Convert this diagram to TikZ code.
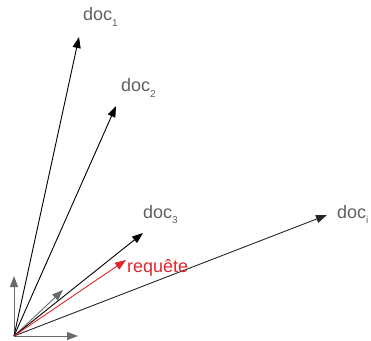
\documentclass[tikz,border=0pt]{standalone}
\usepackage{fontspec}
\setmainfont{Liberation Sans}
\usetikzlibrary{arrows.meta}
\definecolor{labelgray}{HTML}{606060}
\definecolor{axisgray}{HTML}{6A6A6A}
\definecolor{queryred}{HTML}{E0252B}
\newcommand{\idx}[1]{\raisebox{-5.5pt}{\fontsize{10}{10}\selectfont #1}}
\tikzset{
  vec/.style={line width=0.9pt, -{Triangle[length=11pt,width=8pt]}},
  lab/.style={anchor=base west, inner sep=0pt, text=labelgray, font=\fontsize{18}{20}\selectfont},
}
\begin{document}
\begin{tikzpicture}[x=1pt,y=1pt]
\useasboundingbox (0,0) rectangle (371,340);
% origin and vector tips
\coordinate (O) at (14,4);
\coordinate (d1) at (79,303);
\coordinate (d2) at (116,234);
\coordinate (d3) at (143,107);
\coordinate (di) at (327,125);
\coordinate (q) at (126,80);
\coordinate (s) at (63,50);
\coordinate (ay) at (14,64);
\coordinate (ax) at (78,4);
% basis axes and small vector
\draw[vec, axisgray] (O) -- (ay);
\draw[vec, axisgray] (O) -- (ax);
\draw[vec, axisgray] (O) -- (s);
% document vectors
\draw[vec, black] (O) -- (d1);
\draw[vec, black] (O) -- (d2);
\draw[vec, black] (O) -- (d3);
\draw[vec, black!85] (O) -- (di);
% query vector
\draw[vec, queryred] (O) -- (q);
% labels
\node[lab] (l1) at (83,319) {doc\idx{1}};
\node[lab] (l2) at (121,248) {doc\idx{2}};
\node[lab] (l3) at (143,122) {doc\idx{3}};
\node[lab] (li) at (337,122) {doc\idx{i}};
\node[lab, text=queryred] (lq) at (127,68) {requête};
\end{tikzpicture}
\end{document}
